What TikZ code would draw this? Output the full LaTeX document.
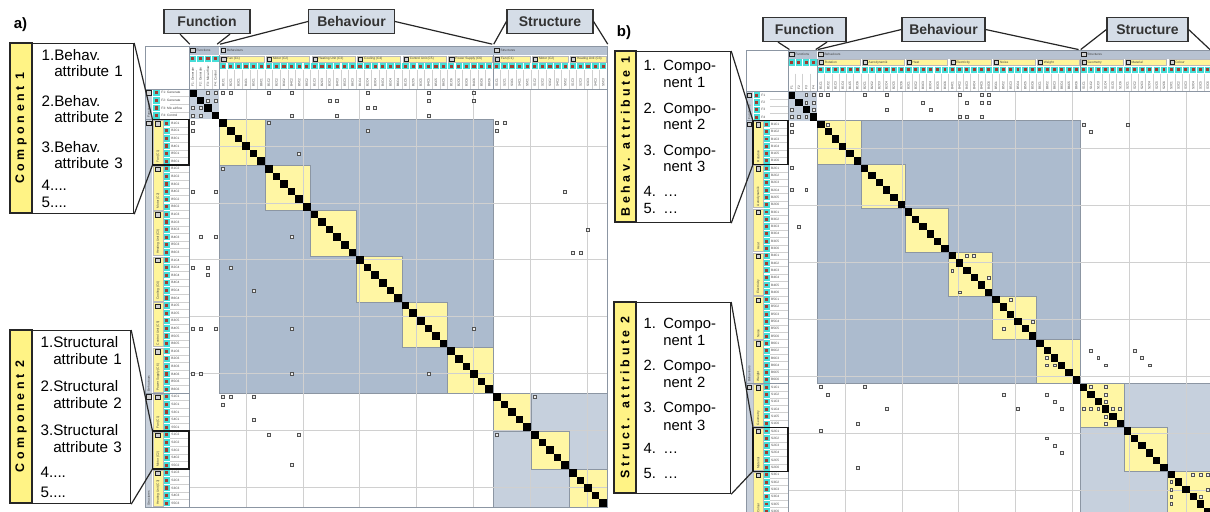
\documentclass[tikz,border=0pt]{standalone}
\usepackage{fontspec}
\setmainfont{Liberation Sans}
\newfontfamily\bandfont[LetterSpace=29]{Liberation Sans}

\definecolor{blockblue}{HTML}{ACBBCE}
\definecolor{blocklight}{HTML}{C6D0DD}
\definecolor{hdrgrey}{HTML}{B7C2D1}
\definecolor{stripgrey}{HTML}{C8D0DB}
\definecolor{diagyellow}{HTML}{FFF6A4}
\definecolor{compyellow}{HTML}{FFF59A}
\definecolor{bandyellow}{HTML}{FFF385}
\definecolor{callblue}{HTML}{D5DDE7}
\definecolor{cyanmark}{HTML}{46DED8}
\definecolor{redmark}{HTML}{A23C30}
\definecolor{gridgrey}{HTML}{D0D0D0}
\definecolor{framegrey}{HTML}{8C96A3}

\tikzset{
  gridline/.style={draw=gridgrey, line width=0.3pt},
  framel/.style={draw=framegrey, line width=0.3pt},
  dsmmark/.style={draw=gray!65!black, fill=gray!15, line width=0.25pt},
  compbar/.style={fill=compyellow, draw=gray!55, line width=0.2pt},
  icon/.style={fill=gray!35, draw=gray!25!black, line width=0.2pt},
  tinylabel/.style={font=\fontsize{1.6}{2}\selectfont, inner sep=0.2pt, text=black!75},
  callbox/.style={rectangle, draw=black!80, fill=callblue, line width=0.6pt, minimum width=43pt, minimum height=12pt, inner sep=1pt, font=\bfseries\fontsize{7}{8}\selectfont, text=black!80},
  bandbox/.style={rectangle, draw=black!85, fill=bandyellow, line width=0.6pt, rotate=90, inner sep=0pt, font=\bandfont\bfseries\fontsize{6.2}{7}\selectfont},
  listbox/.style={rectangle, draw=black!85, fill=white, line width=0.6pt, anchor=north west, align=left, inner xsep=4.5pt, inner ysep=0pt},
  callline/.style={draw=black!85, line width=0.6pt},
  hlbox/.style={draw=black!90, line width=0.6pt}
}

% #1 number of cells, #2 size of one structure block
\newcommand{\dsmbase}[2]{%
  \pgfmathtruncatemacro\dsmlast{#1-1}
  % frame and header backgrounds
  \fill[white] (-5.75,-5.65) rectangle (#1,#1);
  \fill[stripgrey] (-5.75,0) rectangle (-4.85,#1);
  \fill[hdrgrey] (0.05,-5.65) rectangle (3.95,-4.5);
  \fill[hdrgrey] (4.05,-5.65) rectangle (39.95,-4.5);
  \fill[hdrgrey] (40.05,-5.65) rectangle (#1,-4.5);
  % blocks
  \fill[blocklight] (0,0) rectangle (4,4);
  \filldraw[fill=blockblue, framel] (4,4) rectangle (40,40);
  \filldraw[fill=blocklight, framel] (40,40) rectangle (#1,#1);
  \foreach \gi in {0,...,5}
    \filldraw[fill=diagyellow, framel] ({4+6*\gi},{4+6*\gi}) rectangle +(6,6);
  \foreach \gi in {0,1,2}
    \filldraw[fill=diagyellow, framel] ({40+#2*\gi},{40+#2*\gi}) rectangle +(#2,#2);
  % grid
  \draw[gridline] (0,0) grid (#1,#1);
  \foreach \gi in {0,...,#1}{
    \draw[gridline] (\gi,-2.45) -- (\gi,0);
    \draw[gridline] (-2.5,\gi) -- (0,\gi);
  }
  \foreach \gi in {0,...,\dsmlast}
    \fill (\gi,\gi) rectangle +(1,1);
  % element markers
  \foreach \gi in {4,...,\dsmlast}{
    \fill[cyanmark] ({\gi+0.08},-3.42) rectangle ({\gi+0.92},-2.58);
    \fill[redmark] ({\gi+0.3},-3.2) rectangle ({\gi+0.7},-2.8);
    \fill[cyanmark] (-3.34,{\gi+0.08}) rectangle (-2.5,{\gi+0.92});
    \fill[redmark] (-3.12,{\gi+0.3}) rectangle (-2.72,{\gi+0.7});
  }
  \foreach \gi in {0,...,3}{
    \fill[cyanmark] ({\gi+0.08},-4.4) rectangle ({\gi+0.92},-3.56);
    \fill[redmark] ({\gi+0.3},-4.18) rectangle ({\gi+0.7},-3.78);
    \fill[cyanmark] (-4.72,{\gi+0.08}) rectangle (-3.88,{\gi+0.92});
    \fill[redmark] (-4.5,{\gi+0.3}) rectangle (-4.1,{\gi+0.7});
  }
  % component bars
  \foreach \gi in {0,...,5}{
    \filldraw[compbar] ({4+6*\gi+0.15},-4.38) rectangle ({4+6*\gi+5.85},-3.56);
    \filldraw[icon] ({4+6*\gi+0.3},-4.25) rectangle ({4+6*\gi+0.85},-3.7);
    \filldraw[compbar] (-4.75,{4+6*\gi+0.1}) rectangle (-3.42,{4+6*\gi+5.9});
    \filldraw[icon] (-4.4,{4+6*\gi+0.25}) rectangle (-3.8,{4+6*\gi+0.85});
  }
  \foreach \gi in {0,1,2}{
    \filldraw[compbar] ({40+#2*\gi+0.15},-4.38) rectangle ({40+#2*\gi+#2-0.15},-3.56);
    \filldraw[icon] ({40+#2*\gi+0.3},-4.25) rectangle ({40+#2*\gi+0.85},-3.7);
    \filldraw[compbar] (-4.75,{40+#2*\gi+0.1}) rectangle (-3.42,{40+#2*\gi+#2-0.1});
    \filldraw[icon] (-4.4,{40+#2*\gi+0.25}) rectangle (-3.8,{40+#2*\gi+0.85});
  }
  % group icons
  \foreach \gi in {0,4,40}{
    \filldraw[icon] ({\gi+0.2},-5.4) rectangle ({\gi+0.8},-4.8);
    \filldraw[icon] (-5.6,{\gi+0.2}) rectangle (-5.0,{\gi+0.8});
  }
  % frame lines
  \draw[framel] (-5.75,-5.65) rectangle (#1,#1);
  \draw[framel] (-5.75,0) -- (#1,0);
  \draw[framel] (0,-5.65) -- (0,#1);
  \draw[framel] (-5.75,4) -- (0,4);
  \draw[framel] (-5.75,40) -- (0,40);
  \draw[framel] (4,-4.5) -- (4,0);
  \draw[framel] (40,-4.5) -- (40,0);
}

\begin{document}
\begin{tikzpicture}[x=0.5pt, y=-0.5pt]
\useasboundingbox (0,0) rectangle (1210,511);
\clip (0,0) rectangle (1210,511);

% ---------------- a) ----------------
\begin{scope}[shift={(189,89)}, x=3.8pt, y=-3.8pt]
  \dsmbase{55}{5}
  % headers
  \node[tinylabel, anchor=west] (a-gf) at (0.9,-5.1) {Functions};
  \node[tinylabel, anchor=west] (a-gb) at (4.9,-5.1) {Behaviours};
  \node[tinylabel, anchor=west] (a-gs) at (40.9,-5.1) {Structures};
  \node[tinylabel, rotate=90, anchor=west] (a-rgf) at (-5.3,3.9) {Functions};
  \node[tinylabel, rotate=90, anchor=west] (a-rgb) at (-5.3,39.9) {Behaviours};
  \node[tinylabel, rotate=90, anchor=west] (a-rgs) at (-5.3,54.9) {Structures};
  \foreach \nm [count=\cix from 0] in {F1: Generate, F2: Generate, F3: Mix airflow, F4: Control}{
    \node[tinylabel, anchor=west] (a-rf\cix) at (-3.75,\cix+0.5) {\nm};
    \node[tinylabel, rotate=90, anchor=west] (a-cf\cix) at (\cix+0.5,-0.2) {\nm};
  }
  \foreach \nm [count=\gi from 0] in {Fan (C1), Motor (C2), Heating Unit (C3), Cooling (C4), Control Unit (C5), Power Supply (C6)}{
    \node[tinylabel, anchor=west] (a-cb\gi) at ({4+6*\gi+0.95},-3.97) {\nm};
    \node[tinylabel, rotate=90, anchor=west] (a-rb\gi) at (-4.08,{4+6*\gi+5.8}) {\nm};
  }
  \foreach \nm [count=\gi from 0] in {Fan (C1), Motor (C2), Heating Unit (C3)}{
    \node[tinylabel, anchor=west] (a-cs\gi) at ({40+5*\gi+0.95},-3.97) {\nm};
    \node[tinylabel, rotate=90, anchor=west] (a-rs\gi) at (-4.08,{40+5*\gi+4.8}) {\nm};
  }
  \foreach \cn in {1,...,6}
    \foreach \ai in {1,...,6}{
      \pgfmathtruncatemacro\cix{4+6*(\cn-1)+\ai-1}
      \node[tinylabel, rotate=90, anchor=west] (a-c\cix) at (\cix+0.5,-0.2) {B\ai C\cn};
      \node[tinylabel, anchor=west] (a-r\cix) at (-2.42,\cix+0.5) {B\ai C\cn};
    }
  \foreach \cn in {1,2,3}
    \foreach \ai in {1,...,5}{
      \pgfmathtruncatemacro\cix{40+5*(\cn-1)+\ai-1}
      \node[tinylabel, rotate=90, anchor=west] (a-c\cix) at (\cix+0.5,-0.2) {S\ai C\cn};
      \node[tinylabel, anchor=west] (a-r\cix) at (-2.42,\cix+0.5) {S\ai C\cn};
    }
  % dependencies
  \foreach \mr/\mc in {0/2,0/3,0/4,0/5,0/10,0/13,0/23,0/31,0/37,
      1/2,1/3,1/18,1/19,1/31,1/37,2/0,2/1,2/23,2/24,3/0,3/1,3/13,3/19,3/31,
      4/0,4/10,4/40,4/41,5/0,5/23,5/40,8/14,10/4,13/0,13/3,13/49,18/52,21/50,21/51,
      19/1,19/3,19/13,23/0,23/2,23/5,24/2,26/8,31/0,31/1,31/3,31/13,31/37,
      37/0,37/1,37/13,37/31,40/4,40/5,40/8,40/45,41/4,43/8,45/10,45/14,45/40,49/13}
    \filldraw[dsmmark] (\mc+0.3,\mr+0.3) rectangle +(0.4,0.4);
  % highlighted rows
  \draw[hlbox] (-4.8,4) rectangle (0,10);
  \draw[hlbox] (-4.8,45) rectangle (0,50);
  \coordinate (a-h1t) at (-4.8,4);
  \coordinate (a-h1b) at (-4.8,10);
  \coordinate (a-h2t) at (-4.8,45);
  \coordinate (a-h2b) at (-4.8,50);
  \coordinate (a-fun-l) at (0.1,-5.9);
  \coordinate (a-fun-r) at (3.7,-5.9);
  \coordinate (a-beh-l) at (4.1,-5.9);
  \coordinate (a-beh-r) at (39.9,-5.9);
  \coordinate (a-str-l) at (40.1,-5.9);
  \coordinate (a-str-r) at (55.1,-5.9);
\end{scope}

% ---------------- b) ----------------
\begin{scope}[shift={(788,91.5)}, x=3.65pt, y=-3.65pt]
  \dsmbase{58}{6}
  % headers
  \node[tinylabel, anchor=west] (b-gf) at (0.9,-5.1) {Functions};
  \node[tinylabel, anchor=west] (b-gb) at (4.9,-5.1) {Behaviours};
  \node[tinylabel, anchor=west] (b-gs) at (40.9,-5.1) {Structures};
  \node[tinylabel, rotate=90, anchor=west] (b-rgf) at (-5.3,3.9) {Functions};
  \node[tinylabel, rotate=90, anchor=west] (b-rgb) at (-5.3,39.9) {Behaviours};
  \foreach \cix in {0,...,3}{
    \pgfmathtruncatemacro\ai{\cix+1}
    \node[tinylabel, anchor=west] (b-rf\cix) at (-3.75,\cix+0.5) {F\ai};
    \node[tinylabel, rotate=90, anchor=west] (b-cf\cix) at (\cix+0.5,-0.2) {F\ai};
  }
  \foreach \nm [count=\gi from 0] in {Rotation, Aerodynamik, Heat, Electricity, Noise, Weight}{
    \node[tinylabel, anchor=west] (b-cb\gi) at ({4+6*\gi+0.95},-3.97) {\nm};
    \node[tinylabel, rotate=90, anchor=west] (b-rb\gi) at (-4.08,{4+6*\gi+5.8}) {\nm};
  }
  \foreach \nm [count=\gi from 0] in {Geometry, Material, Colour}{
    \node[tinylabel, anchor=west] (b-cs\gi) at ({40+6*\gi+0.95},-3.97) {\nm};
    \node[tinylabel, rotate=90, anchor=west] (b-rs\gi) at (-4.08,{40+6*\gi+5.8}) {\nm};
  }
  \foreach \ai in {1,...,6}
    \foreach \cn in {1,...,6}{
      \pgfmathtruncatemacro\cix{4+6*(\ai-1)+\cn-1}
      \node[tinylabel, rotate=90, anchor=west] (b-c\cix) at (\cix+0.5,-0.2) {B\ai C\cn};
      \node[tinylabel, anchor=west] (b-r\cix) at (-2.42,\cix+0.5) {B\ai C\cn};
    }
  \foreach \ai in {1,2,3}
    \foreach \cn in {1,...,6}{
      \pgfmathtruncatemacro\cix{40+6*(\ai-1)+\cn-1}
      \node[tinylabel, rotate=90, anchor=west] (b-c\cix) at (\cix+0.5,-0.2) {S\ai C\cn};
      \node[tinylabel, anchor=west] (b-r\cix) at (-2.42,\cix+0.5) {S\ai C\cn};
    }
  % dependencies
  \foreach \mr/\mc in {0/2,0/3,0/4,0/5,0/10,0/13,0/23,0/26,0/27,
      1/2,1/3,1/18,1/24,1/26,1/27,2/0,2/3,2/13,2/19,3/0,3/1,3/2,3/23,3/24,3/26,
      4/0,4/5,4/40,4/46,5/0,5/41,10/0,13/0,13/2,18/1,
      22/24,22/25,24/22,25/27,27/23,28/30,31/33,32/29,
      35/41,36/42,37/43,35/47,36/48,37/49,36/35,37/35,37/36,
      40/4,40/10,41/5,43/13,45/9,46/4,51/9,
      40/41,40/43,41/43,42/43,43/40,43/41,43/42,43/44,43/45,44/43,45/43,
      41/29,41/35,42/36,43/31,43/37,47/35,48/36,49/37,
      52/55,52/56,52/57,53/52,54/52,55/52,55/56,56/52,54/57}
    \filldraw[dsmmark] (\mc+0.3,\mr+0.3) rectangle +(0.4,0.4);
  % highlighted rows
  \draw[hlbox] (-4.8,4) rectangle (0,10);
  \draw[hlbox] (-4.8,46) rectangle (0,52);
  \coordinate (b-h1t) at (-4.8,4);
  \coordinate (b-h1b) at (-4.8,10);
  \coordinate (b-h2t) at (-4.8,46);
  \coordinate (b-h2b) at (-4.8,52);
  \coordinate (b-fun-l) at (0.2,-5.75);
  \coordinate (b-fun-r) at (3.8,-5.75);
  \coordinate (b-beh-l) at (4.1,-5.75);
  \coordinate (b-beh-r) at (39.8,-5.75);
  \coordinate (b-str-l) at (40.1,-5.75);
  \coordinate (b-str-r) at (57.8,-5.75);
\end{scope}

% call-outs a)
\node[font=\bfseries\fontsize{7.5}{8}\selectfont] (a-lbl) at (20.5,25) {a)};
\node[callbox] (a-fun) at (207,21.5) {Function};
\node[callbox] (a-beh) at (351.5,21.5) {Behaviour};
\node[callbox] (a-str) at (550,21.5) {Structure};
\draw[callline] ([xshift=-13.5pt]a-fun.south) -- (a-fun-l);
\draw[callline] ([xshift=11.5pt]a-fun.south) -- (a-fun-r);
\draw[callline] (a-beh.west) -- (a-beh-l);
\draw[callline] (a-beh.east) -- (a-beh-r);
\draw[callline] (a-str.west) -- (a-str-l);
\draw[callline] (a-str.east) -- (a-str-r);

\node[bandbox, minimum width=85pt, minimum height=11pt] (a-band1) at (21,128) {Component 1};
\node[listbox, minimum height=85pt, text width=41.5pt, font=\fontsize{7.6}{8}\selectfont] (a-list1) at (32,43)
  {1.Behav.\\\hphantom{1.}attribute 1\\[7pt]2.Behav.\\\hphantom{2.}attribute 2\\[7pt]3.Behav.\\\hphantom{3.}attribute 3\\[3pt]4....\\[0.5pt]5....};
\draw[callline] (a-list1.north east) -- (a-h1t);
\draw[callline] (a-list1.south east) -- (a-h1b);

\node[bandbox, minimum width=86.5pt, minimum height=11pt] (a-band2) at (21,416.5) {Component 2};
\node[listbox, minimum height=86.5pt, inner xsep=4pt, text width=41pt, font=\fontsize{7.6}{8.5}\selectfont] (a-list2) at (32,330)
  {1.Structural\\\hphantom{1.}attribute 1\\[5pt]2.Structural\\\hphantom{2.}attribute 2\\[5pt]3.Structural\\\hphantom{3.}attribute 3\\[4pt]4....\\[1.5pt]5....};
\draw[callline] (a-list2.north east) -- (a-h2t);
\draw[callline] (a-list2.south east) -- (a-h2b);

% call-outs b)
\node[font=\bfseries\fontsize{7.5}{8}\selectfont] (b-lbl) at (624,33) {b)};
\node[callbox, minimum width=41.5pt] (b-fun) at (804.5,29.5) {Function};
\node[callbox, minimum width=41.5pt] (b-beh) at (943.5,29.5) {Behaviour};
\node[callbox, minimum width=40.5pt] (b-str) at (1147.5,29.5) {Structure};
\draw[callline] ([xshift=-13.25pt]b-fun.south) -- (b-fun-l);
\draw[callline] ([xshift=11.25pt]b-fun.south) -- (b-fun-r);
\draw[callline] (b-beh.west) -- (b-beh-l);
\draw[callline] (b-beh.east) -- (b-beh-r);
\draw[callline] (b-str.west) -- (b-str-l);
\draw[callline] (b-str.east) -- (b-str-r);

\node[bandbox, minimum width=85.5pt, minimum height=10.5pt] (b-band1) at (625.5,136.5) {Behav. attribute 1};
\node[listbox, minimum height=85.5pt, text width=40pt, inner xsep=3.5pt, font=\fontsize{7.4}{8.2}\selectfont] (b-list1) at (636,51)
  {1. Compo-\\\hphantom{1. }nent 1\\[4.8pt]2. Compo-\\\hphantom{2. }nent 2\\[4.8pt]3. Compo-\\\hphantom{3. }nent 3\\[4.3pt]4. …\\[0.3pt]5. …};
\draw[callline] (b-list1.north east) -- (b-h1t);
\draw[callline] (b-list1.south east) -- (b-h1b);

\node[bandbox, minimum width=95.5pt, minimum height=11pt] (b-band2) at (625,397.5) {Struct. attribute 2};
\node[listbox, minimum height=95.5pt, text width=40pt, inner xsep=3.5pt, font=\fontsize{7.4}{8.6}\selectfont] (b-list2) at (636,302)
  {1. Compo-\\\hphantom{1. }nent 1\\[3.9pt]2. Compo-\\\hphantom{2. }nent 2\\[3.9pt]3. Compo-\\\hphantom{3. }nent 3\\[2.9pt]4. …\\[3.9pt]5. …};
\draw[callline] (b-list2.north east) -- (b-h2t);
\draw[callline] (b-list2.south east) -- (b-h2b);
\end{tikzpicture}
\end{document}
